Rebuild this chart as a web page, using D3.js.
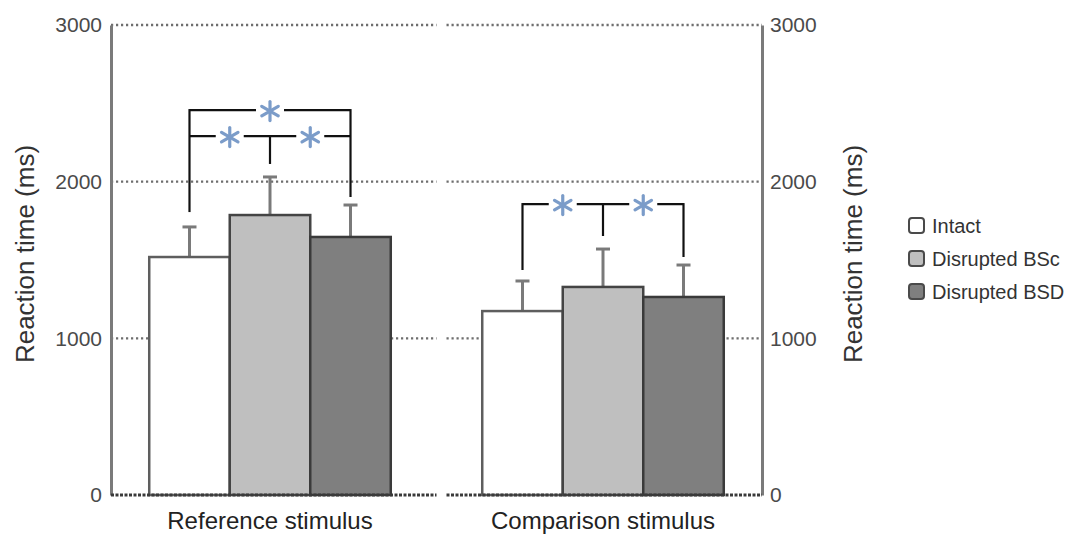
<!DOCTYPE html>
<html lang="en">
<head>
<meta charset="utf-8">
<title>Reaction time</title>
<script src="https://cdn.jsdelivr.net/npm/d3@7"></script>
<style>
body { margin: 0; background: #fff; }
svg { display: block; font-family: "Liberation Sans", Arial, sans-serif; }
.grid { stroke: #6e6e6e; stroke-width: 2.4; stroke-dasharray: 2.2,2.8; }
.zero { stroke: #3a3a3a; stroke-width: 3; stroke-dasharray: 3,1.5; }
.axis .domain { stroke: #7a7a7a; stroke-width: 3; }
.axis text { font-size: 21px; fill: #4a4a4a; font-family: "Liberation Sans", Arial, sans-serif; }
.bracket { stroke: #111; stroke-width: 2.2; fill: none; }
.err { stroke: #7a7a7a; stroke-width: 3; }
.star { stroke: #7b9cc9; stroke-width: 3.2; stroke-linecap: round; }
</style>
</head>
<body>
<svg width="1070" height="536"></svg>
<script>
// data
var stimuli = ["Reference stimulus", "Comparison stimulus"];
var conditions = ["Intact", "Disrupted BSc", "Disrupted BSD"];
var meanRef = [1519, 1787, 1647];
var meanComp = [1174, 1328, 1264];
var errRef = [192, 243, 204];
var errComp = [192, 242, 204];
var yTicks = [0, 1000, 2000, 3000];

// significance brackets: stimulus, from, to, level (ms)
var sigPairs = [
  ["Reference stimulus", "Intact", "Disrupted BSD", 2457],
  ["Reference stimulus", "Intact", "Disrupted BSc", 2291],
  ["Reference stimulus", "Disrupted BSc", "Disrupted BSD", 2291],
  ["Comparison stimulus", "Intact", "Disrupted BSc", 1857],
  ["Comparison stimulus", "Disrupted BSc", "Disrupted BSD", 1857]
];
// where the bracket legs stop, per stimulus / condition
var legEndRef = [1806, 2113, 1902];
var legEndComp = [1436, 1653, 1519];

var svg = d3.select("svg");

var y = d3.scaleLinear().domain([0, 3000]).range([495, 25]);

var x0 = d3.scaleBand().domain(stimuli).range([111, 762]).paddingInner(15 / 333);
var bw = x0.bandwidth();
var x1 = d3.scaleBand().domain(conditions).range([0, bw]).paddingInner(0).paddingOuter(0.475);

var fill = d3.scaleOrdinal().domain(conditions).range(["#ffffff", "#bfbfbf", "#7f7f7f"]);
var edge = d3.scaleOrdinal().domain(conditions).range(["#5e5e5e", "#444444", "#3a3a3a"]);

var rows = [];
stimuli.forEach(function(s, i) {
  var m = i ? meanComp : meanRef, e = i ? errComp : errRef, l = i ? legEndComp : legEndRef;
  conditions.forEach(function(c, j) {
    rows.push({ stim: s, cond: c, mean: m[j], err: e[j], leg: l[j] });
  });
});

function cx(s, c) { return x0(s) + x1(c) + x1.bandwidth() / 2; }

// gridlines per panel
var gapMid = x0(stimuli[1]) - (x0.step() - bw) / 2;
var panels = [
  { stim: stimuli[0], a: x0(stimuli[0]), b: gapMid },
  { stim: stimuli[1], a: gapMid + 10, b: x0(stimuli[1]) + bw }
];
panels.forEach(function(p) {
  svg.append("g").selectAll("line")
    .data(yTicks.filter(function(t) { return t > 0; }))
    .enter().append("line")
      .attr("class", "grid")
      .attr("x1", p.a).attr("x2", p.b)
      .attr("y1", function(d) { return y(d); })
      .attr("y2", function(d) { return y(d); });
});

// axes
svg.append("g")
    .attr("class", "axis")
    .attr("transform", "translate(111,0)")
    .call(d3.axisLeft(y).tickValues(yTicks).tickFormat(d3.format("d"))
      .tickSize(0).tickSizeOuter(0).tickPadding(9));
svg.append("g")
    .attr("class", "axis")
    .attr("transform", "translate(762,0)")
    .call(d3.axisRight(y).tickValues(yTicks).tickFormat(d3.format("d"))
      .tickSize(0).tickSizeOuter(0).tickPadding(8));

// error bars (upper only)
var eb = svg.append("g").selectAll("g").data(rows).enter().append("g");
eb.append("line")
    .attr("class", "err")
    .attr("x1", function(d) { return cx(d.stim, d.cond); })
    .attr("x2", function(d) { return cx(d.stim, d.cond); })
    .attr("y1", function(d) { return y(d.mean); })
    .attr("y2", function(d) { return y(d.mean + d.err); });
eb.append("line")
    .attr("class", "err")
    .attr("x1", function(d) { return cx(d.stim, d.cond) - 7; })
    .attr("x2", function(d) { return cx(d.stim, d.cond) + 7; })
    .attr("y1", function(d) { return y(d.mean + d.err); })
    .attr("y2", function(d) { return y(d.mean + d.err); });

// bars
svg.append("g").selectAll("rect")
  .data(rows)
  .enter().append("rect")
    .attr("x", function(d) { return x0(d.stim) + x1(d.cond); })
    .attr("y", function(d) { return y(d.mean); })
    .attr("width", x1.bandwidth())
    .attr("height", function(d) { return y(0) - y(d.mean); })
    .attr("fill", function(d) { return fill(d.cond); })
    .attr("stroke", function(d) { return edge(d.cond); })
    .attr("stroke-width", 2.5);

// baseline
panels.forEach(function(p) {
  svg.append("line").attr("class", "zero")
    .attr("x1", p.a).attr("x2", p.b)
    .attr("y1", y(0)).attr("y2", y(0));
});

// brackets
var br = svg.append("g");
var gap = 14;
sigPairs.forEach(function(p) {
  var xa = cx(p[0], p[1]), xb = cx(p[0], p[2]), mid = (xa + xb) / 2, yy = y(p[3]);
  br.append("path").attr("class", "bracket")
    .attr("d", "M" + xa + "," + yy + "H" + (mid - gap) + "M" + (mid + gap) + "," + yy + "H" + xb);
  var s = br.append("g").attr("transform", "translate(" + mid + "," + (yy + 1) + ")");
  [90, 30, 150].forEach(function(a) {
    var r = 9.5, dx = r * Math.cos(a * Math.PI / 180), dy = r * Math.sin(a * Math.PI / 180);
    s.append("line").attr("class", "star")
      .attr("x1", -dx).attr("y1", -dy).attr("x2", dx).attr("y2", dy);
  });
});
// bracket legs
rows.forEach(function(d) {
  var lv = sigPairs.filter(function(p) { return p[0] === d.stim && (p[1] === d.cond || p[2] === d.cond); })
    .map(function(p) { return p[3]; });
  if (!lv.length) return;
  br.append("line").attr("class", "bracket")
    .attr("x1", cx(d.stim, d.cond)).attr("x2", cx(d.stim, d.cond))
    .attr("y1", y(d3.max(lv)) - 1).attr("y2", y(d.leg));
});

// x labels
svg.append("g").selectAll("text")
  .data(stimuli)
  .enter().append("text")
    .attr("x", function(d) { return x0(d) + bw / 2; })
    .attr("y", 529)
    .attr("text-anchor", "middle")
    .attr("font-size", 24)
    .attr("fill", "#222")
    .text(function(d) { return d; });

// y labels
[34, 862].forEach(function(px) {
  svg.append("text")
    .attr("transform", "translate(" + px + "," + 254 + ") rotate(-90)")
    .attr("text-anchor", "middle")
    .attr("font-size", 26)
    .attr("fill", "#333")
    .text("Reaction time (ms)");
});

// legend
var lg = svg.append("g").attr("transform", "translate(909,233)");
var li = lg.selectAll("g").data(conditions).enter().append("g")
    .attr("transform", function(d, i) { return "translate(0," + i * 33 + ")"; });
li.append("rect")
    .attr("x", 0).attr("y", -15).attr("width", 15).attr("height", 15).attr("rx", 3)
    .attr("fill", function(d) { return fill(d); })
    .attr("stroke", "#4a4a4a").attr("stroke-width", 2);
li.append("text")
    .attr("x", 23).attr("y", 0)
    .attr("font-size", 20)
    .attr("fill", "#333")
    .text(function(d) { return d; });
</script>
</body>
</html>
